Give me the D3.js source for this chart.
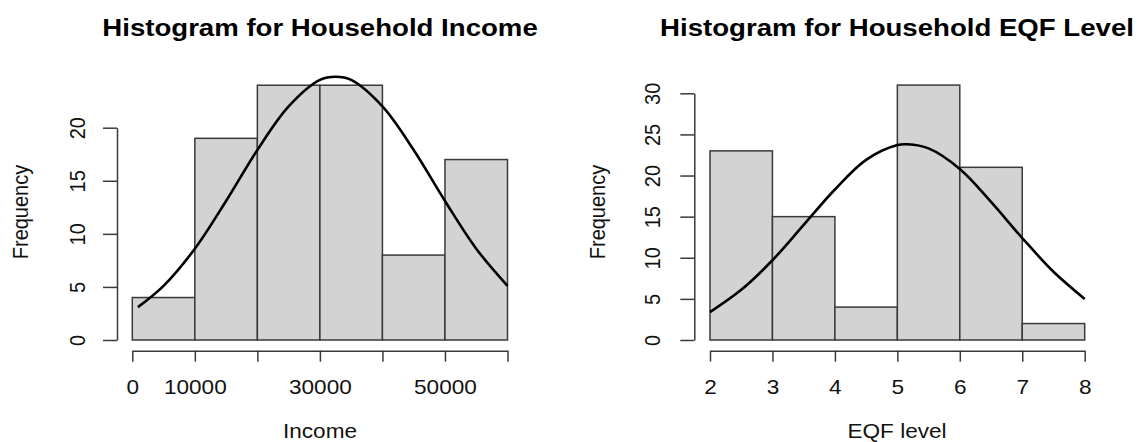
<!DOCTYPE html>
<html>
<head>
<meta charset="utf-8">
<script src="https://cdn.jsdelivr.net/npm/d3@7"></script>
<style>
  html, body { margin: 0; padding: 0; background: #fff; }
  text { font-family: "Liberation Sans", Arial, Helvetica, sans-serif; fill: #111; }
</style>
</head>
<body>
<svg id="chart" width="1140" height="442"></svg>
<script>
// ---- Data: Household Income histogram ----
const incomeBreaks = [0, 10000, 20000, 30000, 40000, 50000, 60000];
const incomeCounts = [4, 19, 24, 24, 8, 17];
const incomeCurveX = [900, 5000, 10000, 15000, 20000, 25000, 30000, 32500, 35000, 40000, 45000, 50000, 55000, 60000];
const incomeCurveY = [3.1, 5.1, 8.6, 13.1, 17.9, 22.0, 24.5, 24.8, 24.5, 22.0, 17.9, 13.1, 8.6, 5.1];
const incomeXTicks = [0, 10000, 20000, 30000, 40000, 50000, 60000];
const incomeXTickLabels = ["0", "10000", "", "30000", "", "50000", ""];
const incomeYTicks = [0, 5, 10, 15, 20];

// ---- Data: Household EQF Level histogram ----
const eqfBreaks = [2, 3, 4, 5, 6, 7, 8];
const eqfCounts = [23, 15, 4, 31, 21, 2];
const eqfCurveX = [2, 2.5, 3, 3.5, 4, 4.5, 5, 5.16, 5.5, 6, 6.5, 7, 7.5, 8];
const eqfCurveY = [3.4, 6.1, 9.7, 14.0, 18.3, 21.9, 23.7, 23.8, 23.3, 20.8, 16.8, 12.4, 8.3, 5.0];
const eqfXTicks = [2, 3, 4, 5, 6, 7, 8];
const eqfXTickLabels = ["2", "3", "4", "5", "6", "7", "8"];
const eqfYTicks = [0, 5, 10, 15, 20, 25, 30];

const titles = ["Histogram for Household Income", "Histogram for Household EQF Level"];
const xTitles = ["Income", "EQF level"];
const yTitle = "Frequency";

const svg = d3.select("#chart");
svg.append("rect").attr("width", 1140).attr("height", 442).attr("fill", "#fff");

const SX = 1.13;      // horizontal stretch of text seen in the reference
const BASE = 20;
const LINE = "#3a3a3a";

function panel(cfg) {
  const x = d3.scaleLinear().domain(cfg.xDomain).range(cfg.xRange);
  const y = d3.scaleLinear().domain(cfg.yDomain).range(cfg.yRange);
  const g = svg.append("g");

  // bars
  const bins = cfg.counts.map((c, i) => ({ x0: cfg.breaks[i], x1: cfg.breaks[i + 1], c }));
  g.selectAll("rect.bar").data(bins).join("rect")
    .attr("class", "bar")
    .attr("x", d => x(d.x0))
    .attr("width", d => x(d.x1) - x(d.x0))
    .attr("y", d => y(d.c))
    .attr("height", d => y(0) - y(d.c))
    .attr("fill", "#d3d3d3")
    .attr("stroke", LINE)
    .attr("stroke-width", 1.5);

  // normal curve
  const pts = cfg.curveX.map((v, i) => [v, cfg.curveY[i]]);
  g.append("path")
    .datum(pts)
    .attr("fill", "none")
    .attr("stroke", "#000")
    .attr("stroke-width", 2.6)
    .attr("d", d3.line().x(d => x(d[0])).y(d => y(d[1])).curve(d3.curveCatmullRom));

  // x axis
  const xa = g.append("g")
    .attr("transform", `translate(0,${cfg.xAxisY})`)
    .call(d3.axisBottom(x).tickValues(cfg.xTicks).tickSize(11).tickSizeOuter(0)
      .tickFormat((d, i) => cfg.xLabels[i]));
  xa.select(".domain").attr("stroke", LINE).attr("stroke-width", 1.5);
  xa.selectAll(".tick line").attr("stroke", LINE).attr("stroke-width", 1.5);
  xa.selectAll(".tick text")
    .attr("y", null).attr("dy", null)
    .attr("font-size", BASE)
    .attr("text-anchor", "middle")
    .attr("fill", "#111")
    .attr("transform", `translate(0,${394 - cfg.xAxisY}) scale(${SX},1)`);

  // y axis
  const ya = g.append("g")
    .attr("transform", `translate(${cfg.yAxisX},0)`)
    .call(d3.axisLeft(y).tickValues(cfg.yTicks).tickSize(14).tickSizeOuter(0).tickFormat(d3.format("d")));
  ya.select(".domain").attr("stroke", LINE).attr("stroke-width", 1.5);
  ya.selectAll(".tick line").attr("stroke", LINE).attr("stroke-width", 1.5);
  ya.selectAll(".tick text")
    .attr("x", null).attr("dy", null)
    .attr("font-size", BASE)
    .attr("text-anchor", "middle")
    .attr("fill", "#111")
    .attr("transform", `translate(${cfg.yLabelOff},0) scale(${SX},1) rotate(-90)`);
  svg.selectAll(".domain").attr("fill", "none");

  // title
  svg.append("text")
    .attr("transform", `translate(${cfg.center},35.5) scale(1.15,1)`)
    .attr("text-anchor", "middle")
    .attr("font-size", 24)
    .attr("font-weight", "bold")
    .style("fill", "#000")
    .text(cfg.title);

  // x title
  svg.append("text")
    .attr("transform", `translate(${cfg.center},437.5) scale(${SX},1)`)
    .attr("text-anchor", "middle")
    .attr("font-size", BASE)
    .text(cfg.xTitle);

  // y title
  svg.append("text")
    .attr("transform", `translate(${cfg.yTitleX},212) scale(${SX},1) rotate(-90)`)
    .attr("text-anchor", "middle")
    .attr("font-size", BASE)
    .text(yTitle);
}

panel({
  breaks: incomeBreaks, counts: incomeCounts, curveX: incomeCurveX, curveY: incomeCurveY,
  xDomain: [0, 60000], xRange: [132.3, 507.5],
  yDomain: [0, 20], yRange: [340, 127.7],
  xTicks: incomeXTicks, xLabels: incomeXTickLabels, yTicks: incomeYTicks,
  xAxisY: 350.7, yAxisX: 117, yLabelOff: -32, yTitleX: 28, center: 320,
  title: titles[0], xTitle: xTitles[0]
});

panel({
  breaks: eqfBreaks, counts: eqfCounts, curveX: eqfCurveX, curveY: eqfCurveY,
  xDomain: [2, 8], xRange: [710, 1084.7],
  yDomain: [0, 30], yRange: [340, 93.3],
  xTicks: eqfXTicks, xLabels: eqfXTickLabels, yTicks: eqfYTicks,
  xAxisY: 350.7, yAxisX: 694.3, yLabelOff: -34.3, yTitleX: 604.5, center: 897,
  title: titles[1], xTitle: xTitles[1]
});
</script>
</body>
</html>
